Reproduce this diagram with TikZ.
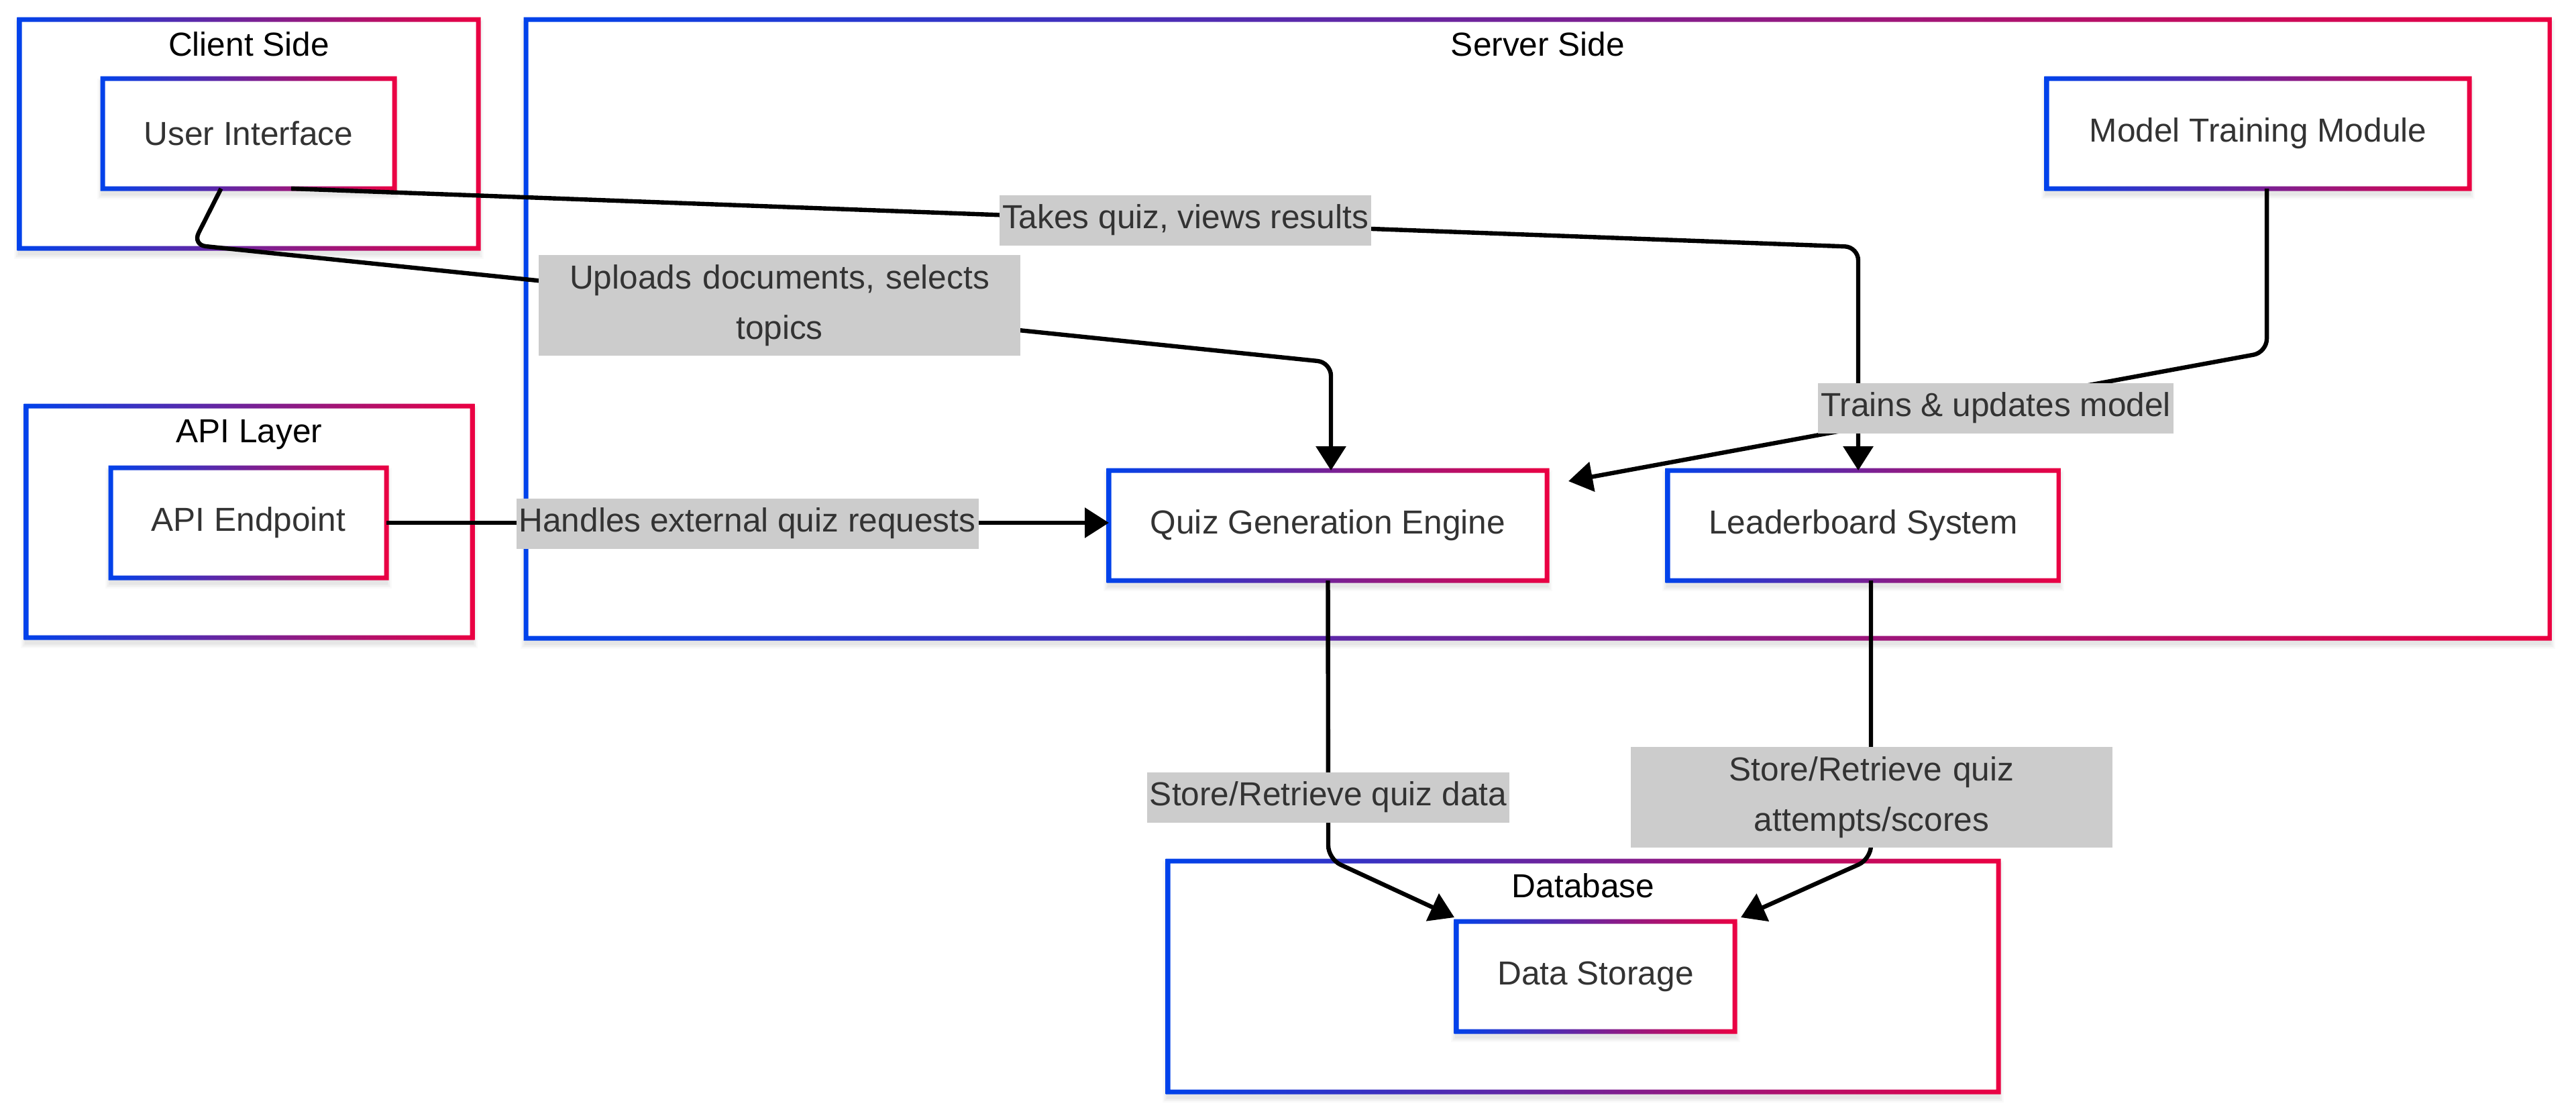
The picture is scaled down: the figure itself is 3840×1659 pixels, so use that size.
\documentclass[tikz,border=0pt]{standalone}
\usepackage{fontspec}
\setmainfont{Liberation Sans}
\usetikzlibrary{arrows.meta,calc}
\definecolor{gB}{HTML}{0042EB}
\definecolor{gR}{HTML}{EB0042}
\definecolor{lblgray}{HTML}{CCCCCC}
\definecolor{txt}{HTML}{333333}
\pgfdeclarelayer{bg}
\pgfsetlayers{bg,main}
\newcommand\gring[1]{%
  \shade[left color=gB,right color=gR,even odd rule]
    ([shift={(-0.875pt,0.875pt)}]#1.north west) rectangle ([shift={(0.875pt,-0.875pt)}]#1.south east)
    ([shift={(0.875pt,-0.875pt)}]#1.north west) rectangle ([shift={(-0.875pt,0.875pt)}]#1.south east);}
\newcommand\sshadow[1]{%
  \foreach \k in {1,...,5}{%
    \fill[black,opacity=0.02]
      ([shift={(-\k*0.4pt,\k*0.4pt-2pt)}]#1.north west) rectangle
      ([shift={(\k*0.4pt,-\k*0.4pt-2pt)}]#1.south east);}}
\newcommand\gbox[1]{\sshadow{#1}\fill[white] (#1.north west) rectangle (#1.south east);\gring{#1}}
\begin{document}
\begin{tikzpicture}[x=0.25pt,y=-0.25pt,
  box/.style={rectangle,inner sep=0pt,outer sep=0pt,text=txt,
    font=\fontsize{12.4}{18.75}\selectfont},
  cluster/.style={rectangle,inner sep=0pt,outer sep=0pt},
  ctitle/.style={anchor=base,text=black,inner sep=0pt,font=\fontsize{12.4}{18.75}\selectfont},
  edge/.style={line width=1.6pt,black,rounded corners=5pt,-{Triangle[length=9pt,width=11pt]}},
  lbl/.style={fill=lblgray,text=txt,inner xsep=1pt,inner ysep=0pt,minimum height=18.75pt,
    font=\fontsize{12.4}{18.75}\selectfont},
  lbl2/.style={lbl,inner xsep=0pt,text width=179.5pt,align=center,minimum height=37.5pt}]
\useasboundingbox (0,0) rectangle (3840,1659);

% clusters
\node[cluster,minimum width=171pt,minimum height=85.25pt] (client) at (371,199.5) {};
\node[cluster,minimum width=754.25pt,minimum height=230.5pt] (server) at (2292.5,490) {};
\node[cluster,minimum width=166.25pt,minimum height=86.25pt] (apil) at (371.5,777.5) {};
\node[cluster,minimum width=309.5pt,minimum height=86pt] (db) at (2360,1455) {};
\node[ctitle] (tclient) at (371,83) {Client Side};
\node[ctitle] (tserver) at (2292.5,83) {Server Side};
\node[ctitle] (tapil) at (371.5,659) {API Layer};
\node[ctitle] (tdb) at (2360,1337) {Database};

% nodes
\node[box,minimum width=108.75pt,minimum height=41pt] (ui) at (370.5,199) {User Interface};
\node[box,minimum width=102.75pt,minimum height=41pt] (api) at (370.5,779) {API Endpoint};
\node[box,minimum width=163.25pt,minimum height=41pt] (qge) at (1979.5,783) {Quiz Generation Engine};
\node[box,minimum width=145.75pt,minimum height=41pt] (ls) at (2777.5,783) {Leaderboard System};
\node[box,minimum width=157.5pt,minimum height=41pt] (mtm) at (3366,199) {Model Training Module};
\node[box,minimum width=103.75pt,minimum height=41pt] (ds) at (2378.5,1455) {Data Storage};

\begin{pgfonlayer}{bg}
  \fill[white] (0,0) rectangle (3840,1659);
  \gbox{client}\gbox{server}\gbox{apil}\gbox{db}
  \gbox{ui}\gbox{api}\gbox{qge}\gbox{ls}\gbox{mtm}\gbox{ds}
\end{pgfonlayer}

% edges
\draw[edge] ([xshift=-10.25pt]ui.south) -- (287,365) -- (1984,540) -- ([xshift=1.125pt]qge.north);
\draw[edge] ([xshift=15.875pt]ui.south) -- (2770,368) -- ([xshift=-1.875pt]ls.north);
\draw[edge] ([xshift=3.25pt]mtm.south) -- (3379,525) -- ([shift={(8pt,-4pt)}]qge.north east);
\draw[edge] (api.east) -- (api.east -| qge.west);
\draw[edge] (qge.south) -- (1980,1280) -- ([shift={(-0.75pt,1.5pt)}]ds.north west);
\draw[edge] ([xshift=2.875pt]ls.south) -- (2789,1280) -- ([shift={(2.25pt,1.5pt)}]ds.north east);

% edge labels
\node[lbl2] (l1) at (1162,455) {Uploads documents, selects\\topics};
\node[lbl] (l2) at (1767,328) {Takes quiz, views results};
\node[lbl] (l3) at (2975,608) {Trains \& updates model};
\node[lbl] (l4) at (1114,780) {Handles external quiz requests};
\node[lbl] (l5) at (1980,1188) {Store/Retrieve quiz data};
\node[lbl2] (l6) at (2790,1188) {Store/Retrieve quiz\\attempts/scores};
\end{tikzpicture}
\end{document}
